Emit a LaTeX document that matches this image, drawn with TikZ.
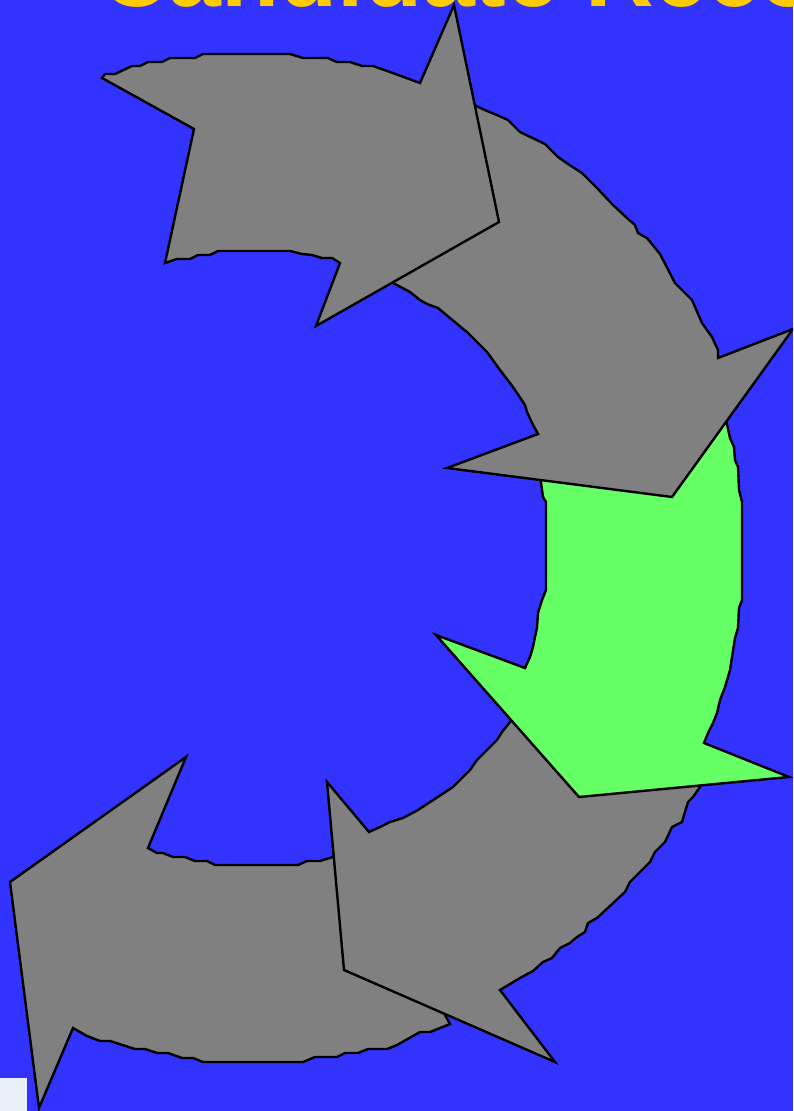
\documentclass[tikz,border=0pt]{standalone}
\usepackage{fontspec}
\setmainfont{Liberation Sans}
\usepackage{xcolor}
\definecolor{slideblue}{HTML}{3333FF}
\definecolor{shapegray}{HTML}{808080}
\definecolor{activegreen}{HTML}{66FF66}
\definecolor{titleyellow}{HTML}{FFCC00}
\definecolor{thumbwhite}{HTML}{E9EFF7}

\begin{document}
\begin{tikzpicture}[x=1pt, y=-1pt,
  cyclearrow/.style={draw=black, line width=2.4pt, fill=shapegray},
  current/.style={cyclearrow, fill=activegreen},
  titletext/.style={anchor=base west, inner sep=0pt, text=titleyellow,
    font=\fontsize{95}{100}\selectfont\bfseries}]
  \clip (0,0) rectangle (793,1111);
  \fill[slideblue] (0,0) rectangle (793,1111);
  \node[titletext] (title) at (100,6) {Candidate Reco};

  % bottom left
  \filldraw[cyclearrow] (380,880) -- (333,857) -- (320,861) -- (307,861) -- (298,865)
    -- (215,865) -- (207,861) -- (195,861) -- (185,857) -- (173,857) -- (163,853)
    -- (157,853) -- (148,848) -- (186,757) -- (10,882) -- (39,1108) -- (73,1028)
    -- (87,1036) -- (100,1041) -- (110,1041) -- (135,1049) -- (145,1049) -- (157,1053)
    -- (168,1053) -- (182,1058) -- (193,1058) -- (203,1062) -- (303,1062) -- (315,1057)
    -- (337,1057) -- (345,1053) -- (358,1053) -- (368,1049) -- (387,1049) -- (397,1045)
    -- (420,1032) -- (430,1032) -- (450,1024) -- (445,1015) -- (440,1005) -- cycle;
  % bottom right
  \filldraw[cyclearrow] (515,715) -- (695,780) -- (700,787) -- (693,797) -- (688,802)
    -- (682,822) -- (672,827) -- (665,842) -- (655,852) -- (650,862) -- (630,882)
    -- (625,892) -- (597,918) -- (588,923) -- (585,932) -- (577,937) -- (570,943)
    -- (560,948) -- (552,958) -- (543,962) -- (533,971) -- (520,978) -- (500,990)
    -- (555,1062) -- (344,970) -- (327,782) -- (369,832) -- (380,827) -- (390,822)
    -- (403,818) -- (418,810) -- (453,787) -- (470,770) -- (477,760) -- (487,750)
    -- (497,740) -- (502,732) -- (510,722) -- cycle;
  % current step
  \filldraw[current] (541,450) -- (726,420) -- (730,438) -- (734,447) -- (735,460)
    -- (738,467) -- (739,490) -- (742,502) -- (742,600) -- (739,608) -- (738,628)
    -- (735,638) -- (732,657) -- (730,670) -- (725,687) -- (720,700) -- (717,713)
    -- (713,723) -- (708,733) -- (704,743) -- (789,777) -- (579,797) -- (436,635)
    -- (525,668) -- (530,657) -- (533,647) -- (535,637) -- (537,628) -- (538,613)
    -- (542,600) -- (546,590) -- (546,502) -- (543,497) -- (542,490) -- (541,482) -- cycle;
  % top right
  \filldraw[cyclearrow] (470,100) -- (476,106) -- (487,111) -- (497,115) -- (508,120)
    -- (520,132) -- (545,144) -- (558,157) -- (568,164) -- (582,173) -- (597,188)
    -- (613,205) -- (627,218) -- (635,225) -- (638,233) -- (647,238) -- (660,254)
    -- (675,283) -- (692,300) -- (702,323) -- (712,337) -- (718,350) -- (718,358)
    -- (793,329) -- (672,497) -- (447,468) -- (538,434) -- (532,423) -- (527,412)
    -- (525,405) -- (513,387) -- (500,370) -- (487,352) -- (468,333) -- (450,318)
    -- (438,308) -- (427,304) -- (420,300) -- (410,292) -- (393,283) -- (385,280) -- cycle;
  % top
  \filldraw[cyclearrow] (102,78) -- (194,129) -- (165,263) -- (177,259) -- (190,259)
    -- (198,255) -- (210,255) -- (218,251) -- (290,251) -- (302,254) -- (312,255)
    -- (322,258) -- (332,258) -- (340,263) -- (316,326) -- (499,222) -- (454,5)
    -- (420,83) -- (390,72) -- (373,66) -- (362,66) -- (350,62) -- (337,62) -- (328,58)
    -- (303,58) -- (290,54) -- (203,54) -- (195,58) -- (170,58) -- (162,62) -- (148,62)
    -- (140,66) -- (132,66) -- (115,74) -- (105,74) -- cycle;

  \fill[thumbwhite] (0,1078) rectangle (27,1111);
\end{tikzpicture}
\end{document}
